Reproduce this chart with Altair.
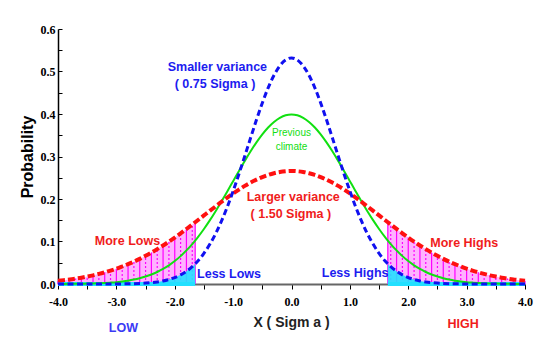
import altair as alt
import pandas as pd

# ---- data ----
x_sigma = [-4.0, -3.9, -3.8, -3.7, -3.6, -3.5, -3.4, -3.3, -3.2, -3.1,
           -3.0, -2.9, -2.8, -2.7, -2.6, -2.5, -2.4, -2.3, -2.2, -2.1,
           -2.0, -1.9, -1.8, -1.7, -1.65, -1.6, -1.5, -1.4, -1.3, -1.2,
           -1.1, -1.0, -0.9, -0.8, -0.7, -0.6, -0.5, -0.4, -0.3, -0.2, -0.1,
           0.0, 0.1, 0.2, 0.3, 0.4, 0.5, 0.6, 0.7, 0.8, 0.9,
           1.0, 1.1, 1.2, 1.3, 1.4, 1.5, 1.6, 1.65, 1.7, 1.8, 1.9,
           2.0, 2.1, 2.2, 2.3, 2.4, 2.5, 2.6, 2.7, 2.8, 2.9,
           3.0, 3.1, 3.2, 3.3, 3.4, 3.5, 3.6, 3.7, 3.8, 3.9, 4.0]

# previous climate (green, 1 sigma)
p_previous = [0.0001, 0.0002, 0.0003, 0.0004, 0.0006, 0.0009, 0.0012, 0.0017, 0.0024, 0.0033,
              0.0044, 0.0060, 0.0079, 0.0104, 0.0136, 0.0175, 0.0224, 0.0283, 0.0355, 0.0440,
              0.0540, 0.0656, 0.0790, 0.0940, 0.1023, 0.1109, 0.1295, 0.1497, 0.1714, 0.1942,
              0.2179, 0.2420, 0.2661, 0.2897, 0.3123, 0.3332, 0.3521, 0.3683, 0.3814, 0.3910, 0.3970,
              0.3989, 0.3970, 0.3910, 0.3814, 0.3683, 0.3521, 0.3332, 0.3123, 0.2897, 0.2661,
              0.2420, 0.2179, 0.1942, 0.1714, 0.1497, 0.1295, 0.1109, 0.1023, 0.0940, 0.0790, 0.0656,
              0.0540, 0.0440, 0.0355, 0.0283, 0.0224, 0.0175, 0.0136, 0.0104, 0.0079, 0.0060,
              0.0044, 0.0033, 0.0024, 0.0017, 0.0012, 0.0009, 0.0006, 0.0004, 0.0003, 0.0002, 0.0001]

# larger variance (red, 1.5 sigma)
p_larger = [0.0076, 0.0091, 0.0107, 0.0127, 0.0149, 0.0175, 0.0204, 0.0237, 0.0274, 0.0315,
            0.0360, 0.0412, 0.0467, 0.0526, 0.0591, 0.0663, 0.0739, 0.0821, 0.0907, 0.0998,
            0.1093, 0.1192, 0.1295, 0.1400, 0.1453, 0.1506, 0.1613, 0.1720, 0.1826, 0.1931,
            0.2031, 0.2130, 0.2221, 0.2308, 0.2386, 0.2455, 0.2516, 0.2567, 0.2607, 0.2636, 0.2653,
            0.2660, 0.2653, 0.2636, 0.2607, 0.2567, 0.2516, 0.2455, 0.2386, 0.2308, 0.2221,
            0.2130, 0.2031, 0.1931, 0.1826, 0.1720, 0.1613, 0.1506, 0.1453, 0.1400, 0.1295, 0.1192,
            0.1093, 0.0998, 0.0907, 0.0821, 0.0739, 0.0663, 0.0591, 0.0526, 0.0467, 0.0412,
            0.0360, 0.0315, 0.0274, 0.0237, 0.0204, 0.0175, 0.0149, 0.0127, 0.0107, 0.0091, 0.0076]

# smaller variance (blue, 0.75 sigma)
p_smaller = [0.0000, 0.0000, 0.0000, 0.0000, 0.0000, 0.0000, 0.0000, 0.0000, 0.0001, 0.0001,
             0.0002, 0.0003, 0.0005, 0.0008, 0.0013, 0.0021, 0.0032, 0.0048, 0.0072, 0.0106,
             0.0152, 0.0215, 0.0299, 0.0408, 0.0473, 0.0547, 0.0720, 0.0933, 0.1183, 0.1479,
             0.1813, 0.2187, 0.2589, 0.3012, 0.3440, 0.3863, 0.4259, 0.4616, 0.4911, 0.5133, 0.5272,
             0.5319, 0.5272, 0.5133, 0.4911, 0.4616, 0.4259, 0.3863, 0.3440, 0.3012, 0.2589,
             0.2187, 0.1813, 0.1479, 0.1183, 0.0933, 0.0720, 0.0547, 0.0473, 0.0408, 0.0299, 0.0215,
             0.0152, 0.0106, 0.0072, 0.0048, 0.0032, 0.0021, 0.0013, 0.0008, 0.0005, 0.0003,
             0.0002, 0.0001, 0.0001, 0.0000, 0.0000, 0.0000, 0.0000, 0.0000, 0.0000, 0.0000, 0.0000]

tail_cut = 1.65

x_ticks = [-4.0, -3.5, -3.0, -2.5, -2.0, -1.5, -1.0, -0.5, 0.0, 0.5, 1.0, 1.5, 2.0, 2.5, 3.0, 3.5, 4.0]
y_ticks = [0.0, 0.05, 0.1, 0.15, 0.2, 0.25, 0.3, 0.35, 0.4, 0.45, 0.5, 0.55, 0.6]

ann_text = ["Smaller variance", "( 0.75 Sigma )", "Larger variance", "( 1.50 Sigma )",
            "More Lows", "Less Lows", "Less Highs", "More Highs", "LOW", "HIGH"]
ann_x = [-1.27, -1.31, 0.03, -0.01, -2.81, -1.07, 1.09, 2.96, -2.88, 2.94]
ann_y = [0.511, 0.471, 0.205, 0.165, 0.101, 0.0235, 0.026, 0.096, -0.104, -0.094]
ann_color = ["#1c1cf0", "#1c1cf0", "#f01c1c", "#f01c1c", "#f01c1c", "#1c1cf0",
             "#1c1cf0", "#f01c1c", "#3a3af5", "#f01c1c"]

small_text = ["Previous", "climate"]
small_x = [0.0, 0.0]
small_y = [0.355, 0.322]

# ---- tables ----
df = pd.DataFrame({"x": x_sigma, "green": p_previous, "red": p_larger, "blue": p_smaller})
df["kind"] = ["solid" if i % 2 == 0 else "dot" for i in range(len(df))]
df["zero"] = 0.0
left_tail = df[df["x"] <= -tail_cut + 1e-9]
right_tail = df[df["x"] >= tail_cut - 1e-9]
tails = pd.concat([left_tail, right_tail])

ann = pd.DataFrame({"t": ann_text, "x": ann_x, "y": ann_y, "c": ann_color})
small = pd.DataFrame({"t": small_text, "x": small_x, "y": small_y})

xs = alt.Scale(domain=[-4, 4], nice=False, zero=False)
ys = alt.Scale(domain=[0, 0.6], nice=False, zero=False)

serif = "Liberation Serif"
sans = "Liberation Sans"

x_axis = alt.Axis(
    values=x_ticks,
    labelExpr="datum.value % 1 == 0 ? (datum.value < 0 ? '-' : '') + format(abs(datum.value), '.1f') : ''",
    domainColor="#666666", domainWidth=2, tickColor="#000000", tickSize=5, tickWidth=1,
    labelPadding=7, labelFont=serif, labelFontSize=12, labelFontWeight="bold", labelColor="#000000",
    grid=False, title="X ( Sigm a )", titleFont=sans, titleFontSize=14, titleFontWeight="bold",
    titleColor="#222222", titleX=233, titleY=38, titleAlign="center", titleBaseline="middle",
    labelFlush=False, labelOverlap=False,
)

y_axis_ticks = alt.Axis(
    orient="left", values=y_ticks, offset=-4, domain=False,
    labelExpr="abs(datum.value * 10 - round(datum.value * 10)) < 0.01 ? format(datum.value, '.1f') : ''",
    tickColor="#000000", tickSize=4, tickWidth=1, labelPadding=3,
    labelFont=serif, labelFontSize=12, labelFontWeight="bold", labelColor="#000000",
    grid=False, title=None, labelOverlap=False, labelFlush=False,
)

y_axis_line = alt.Axis(
    orient="left", domain=True, domainColor="#000000", domainWidth=1.5, ticks=False, labels=False,
    grid=False, title="Probability", titleFont=sans, titleFontSize=16, titleFontWeight="bold",
    titleColor="#000000", titleX=-31, titleY=127.5, titleAngle=270, titleAlign="center",
    titleBaseline="middle",
)


def X(field="x:Q"):
    return alt.X(field, scale=xs, axis=x_axis)


layers = []
for part in (left_tail, right_tail):
    layers.append(alt.Chart(part).mark_area(color="#ff00ff", opacity=0.3).encode(
        x=X(), y=alt.Y("red:Q", scale=ys, axis=None, stack=None), y2="zero:Q"))
layers.append(alt.Chart(tails).mark_rule(color="#ff00ff", strokeWidth=1.2).encode(
    x=X(),
    y=alt.Y("zero:Q", scale=ys, axis=None),
    y2="red:Q",
    strokeDash=alt.StrokeDash("kind:N", scale=alt.Scale(domain=["solid", "dot"], range=[[1, 0], [2, 2]]), legend=None),
))
for part in (left_tail, right_tail):
    layers.append(alt.Chart(part).mark_area(color="#22e0ff", opacity=0.9).encode(
        x=X(), y=alt.Y("blue:Q", scale=ys, axis=None, stack=None), y2="zero:Q"))
    layers.append(alt.Chart(part).mark_line(color="#22e0ff", strokeWidth=4).encode(
        x=X(), y=alt.Y("zero:Q", scale=ys, axis=None)))

layers.append(alt.Chart(df).mark_line(color="#11e011", strokeWidth=2, interpolate="monotone").encode(
    x=X(), y=alt.Y("green:Q", scale=ys, axis=y_axis_ticks)))
layers.append(alt.Chart(df).mark_line(color="#ff1010", strokeWidth=4, strokeDash=[7, 3], interpolate="monotone").encode(
    x=X(), y=alt.Y("red:Q", scale=ys, axis=y_axis_line)))
layers.append(alt.Chart(df).mark_line(color="#1010f0", strokeWidth=3, strokeDash=[6, 3.5], interpolate="monotone").encode(
    x=X(), y=alt.Y("blue:Q", scale=ys, axis=None)))

layers.append(alt.Chart(ann).mark_text(font=sans, fontSize=12.5, fontWeight="bold").encode(
    x=X(), y=alt.Y("y:Q", scale=ys, axis=None),
    text="t:N", color=alt.Color("c:N", scale=None)))
layers.append(alt.Chart(small).mark_text(font=sans, fontSize=10, color="#11dd11").encode(
    x=X(), y=alt.Y("y:Q", scale=ys, axis=None), text="t:N"))

chart = alt.layer(*layers).resolve_axis(y="independent").properties(
    width=467, height=255,
    autosize=alt.AutoSizeParams(type="none"),
    padding={"left": 50, "top": 21, "right": 26, "bottom": 57},
    background="white",
).configure_view(stroke=None)

chart.save("out.html", embed_options={"renderer": "svg", "actions": False})
